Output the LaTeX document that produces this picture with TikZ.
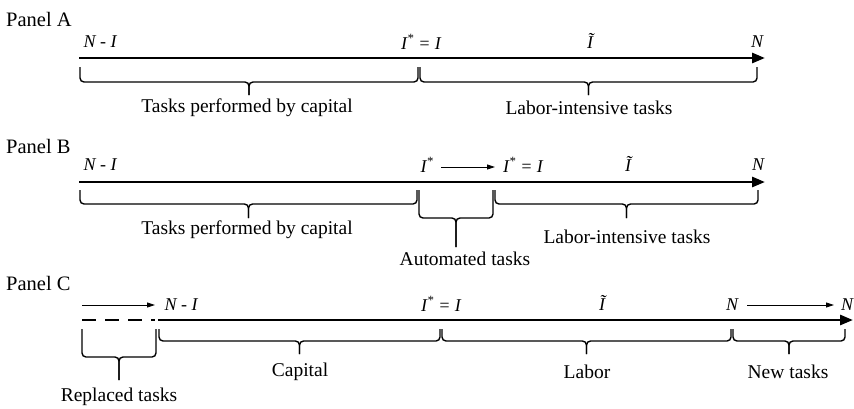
\documentclass[tikz,border=0pt]{standalone}
\usepackage{fontspec}
\setmainfont{Liberation Serif}
\usetikzlibrary{arrows.meta}

% x1, x2, top, middle, tip of an underbrace drawn as a rounded bracket
\newcommand\taskbrace[5]{%
  \draw[bracket] (#1,#3) -- (#1,#4) -- ({(#1+#2)/2},#4) -- ({(#1+#2)/2},#5);
  \draw[bracket] ({(#1+#2)/2},#5) -- ({(#1+#2)/2},#4) -- (#2,#4) -- (#2,#3);
}

\tikzset{
  panel/.style={font=\fontsize{20.5}{24}\selectfont, anchor=west, inner sep=0pt},
  ticklabel/.style={font=\fontsize{18}{21}\selectfont\itshape, inner sep=0pt},
  caption/.style={font=\fontsize{19.5}{22}\selectfont, inner sep=0pt},
  axis/.style={line width=2.8pt, -{Triangle[length=13pt,width=10pt]}},
  dashedaxis/.style={line width=2.8pt, dash pattern=on 14pt off 9pt},
  shiftarrow/.style={line width=0.9pt, -{Triangle[length=8pt,width=5pt]}},
  bracket/.style={line width=1.4pt, rounded corners=4pt},
}

\begin{document}
\begin{tikzpicture}[x=1pt, y=-1pt]
\useasboundingbox (0,0) rectangle (854,408);

% ---------------- Panel A ----------------
\node[panel] (pA) at (6,19) {Panel A};
\coordinate (A0) at (79,58);
\coordinate (A1) at (765,58);
\draw[axis] (A0) -- (A1);
\node[ticklabel] (A-nl) at (100,42) {N - I};
\node[ticklabel] (A-i)  at (421,42) {I\textsuperscript{*} = I};
\node[ticklabel] (A-it) at (590,41) {Ĩ};
\node[ticklabel] (A-n)  at (757,42) {N};
\taskbrace{80}{418}{67}{82}{95}
\taskbrace{420}{757}{67}{82}{95}
\node[caption] (A-cap) at (247,108) {Tasks performed by capital};
\node[caption] (A-lab) at (589,108) {Labor-intensive tasks};

% ---------------- Panel B ----------------
\node[panel] (pB) at (6,146) {Panel B};
\coordinate (B0) at (79,182);
\coordinate (B1) at (765,182);
\draw[axis] (B0) -- (B1);
\node[ticklabel] (B-nl) at (100,165) {N - I};
\node[ticklabel] (B-i0) at (427,165) {I\textsuperscript{*}};
\node[ticklabel] (B-i1) at (523,165) {I\textsuperscript{*} = I};
\node[ticklabel] (B-it) at (628,164) {Ĩ};
\node[ticklabel] (B-n)  at (758,165) {N};
\coordinate (B-s0) at (441,167);
\coordinate (B-s1) at (495,167);
\draw[shiftarrow] (B-s0) -- (B-s1);
\taskbrace{80}{417}{190}{204}{218}
\taskbrace{419}{493}{190}{218}{247}
\taskbrace{495}{758}{190}{204}{218}
\node[caption] (B-cap) at (247,230) {Tasks performed by capital};
\node[caption] (B-aut) at (465,259) {Automated tasks};
\node[caption] (B-lab) at (627,237) {Labor-intensive tasks};

% ---------------- Panel C ----------------
\node[panel] (pC) at (6,283) {Panel C};
\coordinate (C0) at (82,320);
\coordinate (C1) at (155,320);
\coordinate (C2) at (158,320);
\coordinate (C3) at (853,320);
\draw[dashedaxis] (C0) -- (C1);
\draw[axis] (C2) -- (C3);
\node[ticklabel] (C-nl) at (181,305) {N - I};
\node[ticklabel] (C-i)  at (441,304) {I\textsuperscript{*} = I};
\node[ticklabel] (C-it) at (602,303) {Ĩ};
\node[ticklabel] (C-n0) at (732,305) {N};
\node[ticklabel] (C-n1) at (847,305) {N};
\coordinate (C-r0) at (82,305);
\coordinate (C-r1) at (155,305);
\coordinate (C-e0) at (747,305);
\coordinate (C-e1) at (834,305);
\draw[shiftarrow] (C-r0) -- (C-r1);
\draw[shiftarrow] (C-e0) -- (C-e1);
\taskbrace{82}{156}{329}{357}{380}
\taskbrace{159}{440}{329}{341}{354}
\taskbrace{442}{731}{329}{341}{354}
\taskbrace{733}{845}{329}{341}{354}
\node[caption] (C-rep) at (119,397) {Replaced tasks};
\node[caption] (C-cap) at (300,372) {Capital};
\node[caption] (C-lab) at (587,372) {Labor};
\node[caption] (C-new) at (788,372) {New tasks};
\end{tikzpicture}
\end{document}
